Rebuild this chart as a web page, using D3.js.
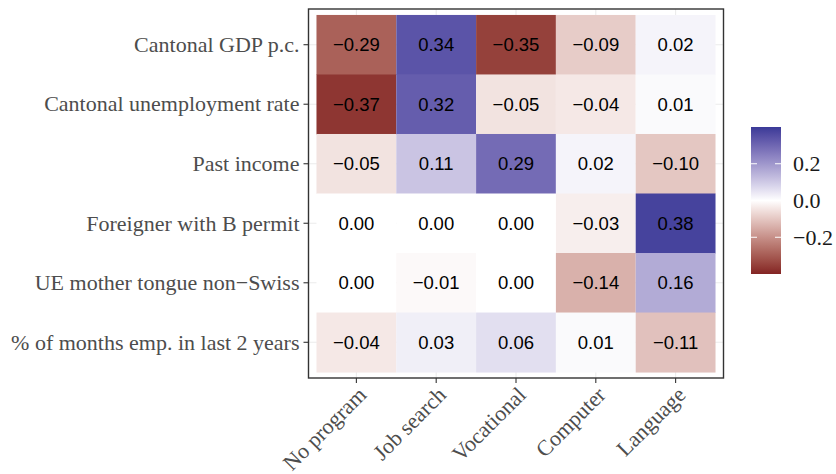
<!DOCTYPE html>
<html><head><meta charset="utf-8">
<script src="https://cdn.jsdelivr.net/npm/d3@7"></script>
<style>body{margin:0;background:#fff}</style>
</head><body>
<script>
const programs = ["No program", "Job search", "Vocational", "Computer", "Language"];
const covariates = ["Cantonal GDP p.c.", "Cantonal unemployment rate", "Past income",
  "Foreigner with B permit", "UE mother tongue non\u2212Swiss", "% of months emp. in last 2 years"];
const rowGDP   = [-0.29, 0.34, -0.35, -0.09, 0.02];
const rowUnemp = [-0.37, 0.32, -0.05, -0.04, 0.01];
const rowInc   = [-0.05, 0.11, 0.29, 0.02, -0.10];
const rowBperm = [0.00, 0.00, 0.00, -0.03, 0.38];
const rowTongue= [0.00, -0.01, 0.00, -0.14, 0.16];
const rowEmp   = [-0.04, 0.03, 0.06, 0.01, -0.11];
const legendTicks = [-0.2, 0.0, 0.2];

const rows = [rowGDP, rowUnemp, rowInc, rowBperm, rowTongue, rowEmp];
const cells = [];
covariates.forEach((c, i) => programs.forEach((p, j) => cells.push({c, p, v: rows[i][j]})));

const W = 836, H = 474;
const P = {l: 308.5, r: 723.5, t: 9, b: 378};
const svg = d3.select("body").append("svg").attr("width", W).attr("height", H);

const x = d3.scaleBand().domain(programs).range([P.l, P.r]).paddingInner(0).paddingOuter(0.1);
const y = d3.scaleBand().domain(covariates).range([P.t, P.b]).paddingInner(0).paddingOuter(0.1);

const col = d3.scaleLinear().domain([-0.4, 0, 0.4]).range(["#832424", "#ffffff", "#3A3A98"])
  .interpolate(d3.interpolateLab).clamp(true);

const fmt = v => (v < 0 ? "\u2212" : "") + Math.abs(v).toFixed(2);
const serif = "Liberation Serif, Times New Roman, serif";

// panel background + grid
svg.append("rect").attr("x", P.l).attr("y", P.t).attr("width", P.r - P.l).attr("height", P.b - P.t).attr("fill", "#fff");
const g = svg.append("g");
g.selectAll(".gx").data(programs).join("line")
  .attr("x1", d => x(d) + x.bandwidth() / 2).attr("x2", d => x(d) + x.bandwidth() / 2)
  .attr("y1", P.t).attr("y2", P.b).attr("stroke", "#ebebeb").attr("stroke-width", 1.1);
g.selectAll(".gy").data(covariates).join("line")
  .attr("y1", d => y(d) + y.bandwidth() / 2).attr("y2", d => y(d) + y.bandwidth() / 2)
  .attr("x1", P.l).attr("x2", P.r).attr("stroke", "#ebebeb").attr("stroke-width", 1.1);

// tiles
svg.selectAll(".tile").data(cells).join("rect")
  .attr("x", d => x(d.p)).attr("y", d => y(d.c))
  .attr("width", x.bandwidth()).attr("height", y.bandwidth() + 0.5)
  .attr("fill", d => col(d.v));
svg.selectAll(".lab").data(cells).join("text")
  .attr("x", d => x(d.p) + x.bandwidth() / 2).attr("y", d => y(d.c) + y.bandwidth() / 2)
  .attr("text-anchor", "middle").attr("dy", "0.36em")
  .attr("font-family", "Liberation Sans, Arial, sans-serif").attr("font-size", 18.5)
  .attr("fill", "#000").text(d => fmt(d.v));

// border
svg.append("rect").attr("x", P.l).attr("y", P.t).attr("width", P.r - P.l).attr("height", P.b - P.t)
  .attr("fill", "none").attr("stroke", "#333333").attr("stroke-width", 1.4);

// y axis
const ya = svg.append("g");
covariates.forEach(c => {
  const yy = y(c) + y.bandwidth() / 2;
  ya.append("line").attr("x1", P.l - 5).attr("x2", P.l).attr("y1", yy).attr("y2", yy)
    .attr("stroke", "#333333").attr("stroke-width", 1.1);
  ya.append("text").attr("x", P.l - 9).attr("y", yy).attr("dy", "0.33em").attr("text-anchor", "end")
    .attr("font-family", serif).attr("font-size", 22)
    .attr("fill", "#4d4d4d").text(c);
});
// x axis
const xa = svg.append("g");
programs.forEach(p => {
  const xx = x(p) + x.bandwidth() / 2;
  xa.append("line").attr("x1", xx).attr("x2", xx).attr("y1", P.b).attr("y2", P.b + 5)
    .attr("stroke", "#333333").attr("stroke-width", 1.1);
  xa.append("text").attr("transform", `translate(${xx},${P.b + 7}) rotate(-45)`)
    .attr("text-anchor", "end").attr("dy", "0.72em")
    .attr("font-family", serif).attr("font-size", 22)
    .attr("fill", "#4d4d4d").text(p);
});

// legend
const L = {x: 751, w: 30, top: 127, bot: 274};
const ls = d3.scaleLinear().domain([-0.4, 0.4]).range([L.bot, L.top]);
const defs = svg.append("defs");
const grad = defs.append("linearGradient").attr("id", "lg").attr("x1", 0).attr("x2", 0).attr("y1", 1).attr("y2", 0);
d3.range(0, 21).forEach(i => {
  const v = -0.4 + 0.8 * i / 20;
  grad.append("stop").attr("offset", i / 20).attr("stop-color", col(v));
});
svg.append("rect").attr("x", L.x).attr("y", L.top).attr("width", L.w).attr("height", L.bot - L.top).attr("fill", "url(#lg)");
legendTicks.forEach(t => {
  const yy = ls(t);
  svg.append("line").attr("x1", L.x).attr("x2", L.x + 6).attr("y1", yy).attr("y2", yy).attr("stroke", "#fff").attr("stroke-width", 1);
  svg.append("line").attr("x1", L.x + L.w - 6).attr("x2", L.x + L.w).attr("y1", yy).attr("y2", yy).attr("stroke", "#fff").attr("stroke-width", 1);
  svg.append("text").attr("x", 793).attr("y", yy).attr("dy", "0.33em")
    .attr("font-family", serif).attr("font-size", 22)
    .attr("fill", "#1a1a1a").text((t < 0 ? "\u2212" : "") + Math.abs(t).toFixed(1));
});
</script>
</body></html>
